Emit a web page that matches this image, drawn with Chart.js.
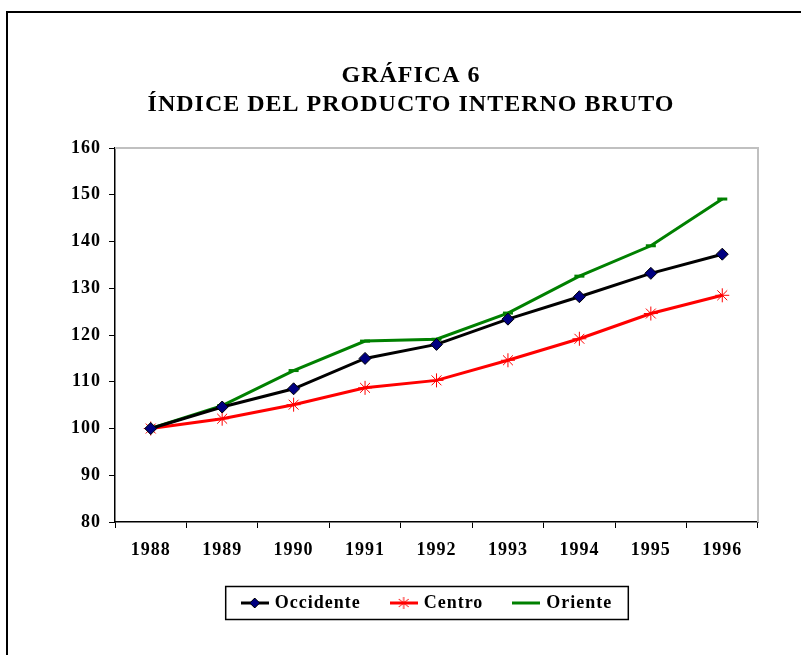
<!DOCTYPE html>
<html>
<head>
<meta charset="utf-8">
<script src="https://cdn.jsdelivr.net/npm/chart.js@4/dist/chart.umd.min.js"></script>
<style>
  html, body { margin: 0; padding: 0; background: #ffffff; }
  canvas { display: block; }
</style>
</head>
<body>
<canvas id="grafica" width="801" height="655"></canvas>
<script>
const anios = ["1988", "1989", "1990", "1991", "1992", "1993", "1994", "1995", "1996"];
const occidente = [100, 104.6, 108.5, 115.0, 118.0, 123.4, 128.2, 133.2, 137.3];
const centro = [100, 102.1, 105.1, 108.7, 110.3, 114.6, 119.2, 124.6, 128.5];
const oriente = [100, 104.9, 112.4, 118.7, 119.1, 124.7, 132.6, 139.1, 149.1];
const titulo = ["GRÁFICA 6", "ÍNDICE DEL PRODUCTO INTERNO BRUTO"];

const serif = "'Liberation Serif', 'Times New Roman', serif";

// small pictures for the legend: line with its marker
function icono(color, marca) {
    const c = document.createElement("canvas");
    c.width = 28;
    c.height = 14;
    const g = c.getContext("2d");
    g.strokeStyle = color;
    g.lineWidth = 3;
    g.beginPath();
    g.moveTo(0, 7);
    g.lineTo(28, 7);
    g.stroke();
    if (marca === "rombo") {
        g.fillStyle = "#000080";
        g.strokeStyle = "#000000";
        g.lineWidth = 1;
        g.beginPath();
        g.moveTo(14, 2);
        g.lineTo(19, 7);
        g.lineTo(14, 12);
        g.lineTo(9, 7);
        g.closePath();
        g.fill();
        g.stroke();
    } else if (marca === "estrella") {
        g.strokeStyle = color;
        g.lineWidth = 1;
        g.beginPath();
        g.moveTo(14, 1); g.lineTo(14, 13);
        g.moveTo(9, 3); g.lineTo(19, 11);
        g.moveTo(19, 3); g.lineTo(9, 11);
        g.stroke();
    }
    return c;
}
const iconos = [icono("#000000", "rombo"), icono("#ff0000", "estrella"), icono("#008000", null)];

const espaciado = {
    id: "espaciado",
    beforeUpdate(chart) { chart.ctx.letterSpacing = "1px"; },
    afterLayout(chart) {
        // the legend sits a little right of the title in the original
        chart.legend.left += 17;
        chart.legend.right += 17;
    },
    beforeDraw(chart) {
        const ctx = chart.ctx;
        ctx.letterSpacing = "1px";
        ctx.save();
        ctx.fillStyle = "#ffffff";
        ctx.fillRect(0, 0, chart.width, chart.height);
        ctx.strokeStyle = "#000000";
        ctx.lineWidth = 2;
        ctx.strokeRect(7, 12, chart.width + 20, chart.height + 20);
        ctx.restore();
    },
    beforeDatasetsDraw(chart) {
        const a = chart.chartArea;
        const ctx = chart.ctx;
        ctx.save();
        ctx.strokeStyle = "#c0c0c0";
        ctx.lineWidth = 2;
        ctx.beginPath();
        ctx.moveTo(a.left, a.top);
        ctx.lineTo(a.right, a.top);
        ctx.lineTo(a.right, a.bottom);
        ctx.stroke();
        ctx.restore();
    },
    afterDraw(chart) {
        const hb = chart.legend.legendHitBoxes;
        if (!hb || !hb.length) return;
        const ultimo = hb[hb.length - 1];
        const izq = hb[0].left - 18;
        const der = ultimo.left + ultimo.width + 16;
        const cy = hb[0].top + hb[0].height / 2;
        const ctx = chart.ctx;
        ctx.save();
        ctx.strokeStyle = "#000000";
        ctx.lineWidth = 1.5;
        ctx.strokeRect(izq, cy - 16.5, der - izq, 33);
        ctx.restore();
    }
};

new Chart(document.getElementById("grafica").getContext("2d"), {
    type: "line",
    data: {
        labels: anios,
        datasets: [{
            label: "Occidente",
            data: occidente,
            borderColor: "#000000",
            borderWidth: 3,
            pointStyle: "rectRot",
            pointRadius: 6,
            pointBackgroundColor: "#000080",
            pointBorderColor: "#000000",
            pointBorderWidth: 1,
            tension: 0
        }, {
            label: "Centro",
            data: centro,
            borderColor: "#ff0000",
            borderWidth: 3,
            pointStyle: "star",
            pointRadius: 7,
            pointBorderColor: "#ff0000",
            pointBackgroundColor: "#ff0000",
            pointBorderWidth: 1,
            tension: 0
        }, {
            label: "Oriente",
            data: oriente,
            borderColor: "#008000",
            borderWidth: 3,
            pointStyle: "line",
            pointRadius: 5,
            pointBorderColor: "#008000",
            pointBorderWidth: 3,
            tension: 0
        }]
    },
    options: {
        responsive: false,
        animation: false,
        layout: { padding: { top: 61, left: 64, right: 43, bottom: 33 } },
        plugins: {
            tooltip: { enabled: false },
            title: {
                display: true,
                text: titulo,
                color: "#000000",
                font: { family: serif, size: 24, weight: "bold", lineHeight: 1.21 },
                padding: { top: 0, bottom: 29 }
            },
            legend: {
                position: "bottom",
                labels: {
                    color: "#000000",
                    font: { family: serif, size: 18, weight: "bold" },
                    usePointStyle: true,
                    pointStyleWidth: 22,
                    padding: 32,
                    generateLabels(chart) {
                        const items = Chart.defaults.plugins.legend.labels.generateLabels(chart);
                        items.forEach((it, i) => { it.pointStyle = iconos[i]; });
                        return items;
                    }
                }
            }
        },
        scales: {
            x: {
                offset: true,
                afterFit(scale) { scale.height = 40; },
                grid: { offset: true, drawOnChartArea: false, tickLength: 6, color: "#000000" },
                border: { color: "#000000", width: 1.5 },
                ticks: {
                    color: "#000000",
                    padding: 12,
                    maxRotation: 0,
                    font: { family: serif, size: 18, weight: "bold" }
                }
            },
            y: {
                min: 80,
                max: 160,
                afterFit(scale) { scale.width = 51; },
                grid: { drawOnChartArea: false, tickLength: 6, color: "#000000" },
                border: { color: "#000000", width: 1.5 },
                ticks: {
                    stepSize: 10,
                    color: "#000000",
                    padding: 8,
                    font: { family: serif, size: 18, weight: "bold" }
                }
            }
        }
    },
    plugins: [espaciado]
});
</script>
</body>
</html>
